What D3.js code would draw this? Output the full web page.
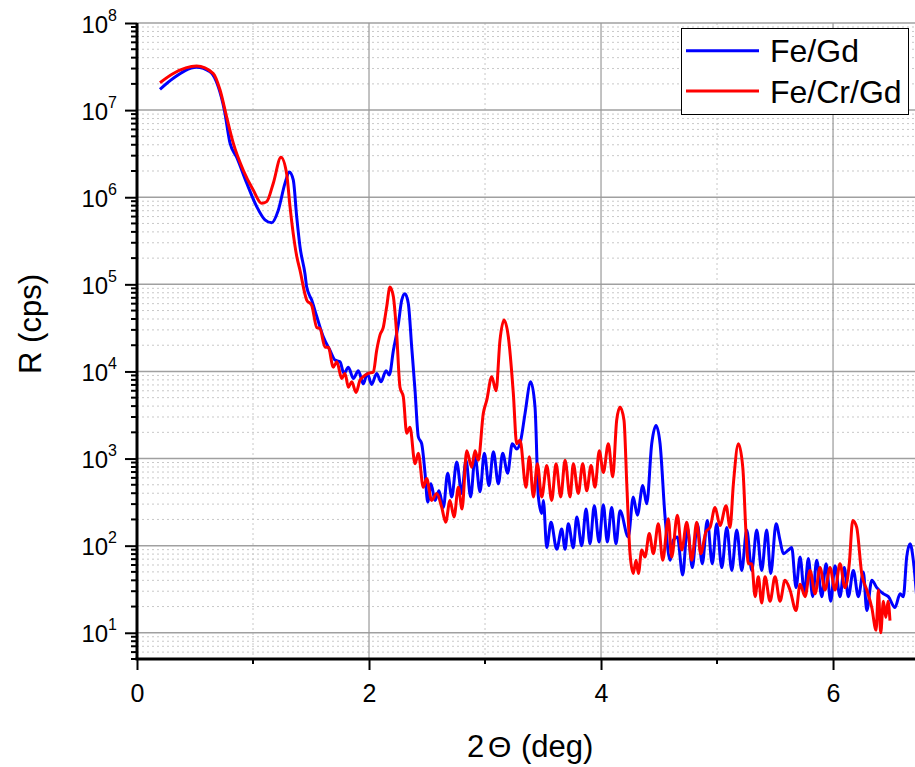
<!DOCTYPE html>
<html>
<head>
<meta charset="utf-8">
<script src="https://cdn.jsdelivr.net/npm/d3@7"></script>
<style>
  body { margin: 0; background: #fff; }
  svg { display: block; font-family: Arial, "Liberation Sans", sans-serif; }
</style>
</head>
<body>
<svg id="chart" width="915" height="767"></svg>
<script>
// Series: 2Theta (deg) and R (cps)
const feGdTheta = [0.198, 0.313, 0.514, 0.629, 0.70, 0.753, 0.802, 0.859, 0.946, 1.032, 1.103, 1.161, 1.218, 1.276, 1.313, 1.347, 1.377, 1.405, 1.448, 1.463, 1.506, 1.549, 1.606, 1.664, 1.707, 1.75, 1.784, 1.822, 1.865, 1.908, 1.951, 1.985, 2.023, 2.066, 2.103, 2.147, 2.175, 2.21, 2.253, 2.282, 2.31, 2.339, 2.368, 2.397, 2.425, 2.454, 2.483, 2.506, 2.534, 2.569, 2.603, 2.641, 2.678, 2.713, 2.756, 2.799, 2.836, 2.876, 2.914, 2.957, 2.994, 3.034, 3.072, 3.115, 3.152, 3.195, 3.235, 3.273, 3.308, 3.345, 3.394, 3.431, 3.46, 3.489, 3.503, 3.532, 3.569, 3.618, 3.661, 3.69, 3.718, 3.761, 3.791, 3.834, 3.871, 3.905, 3.942, 3.983, 4.02, 4.054, 4.092, 4.129, 4.164, 4.235, 4.278, 4.313, 4.36, 4.394, 4.437, 4.474, 4.509, 4.552, 4.595, 4.623, 4.658, 4.704, 4.744, 4.787, 4.83, 4.873, 4.916, 4.959, 4.997, 5.041, 5.084, 5.127, 5.17, 5.213, 5.256, 5.299, 5.342, 5.385, 5.428, 5.463, 5.509, 5.543, 5.572, 5.615, 5.644, 5.681, 5.716, 5.753, 5.787, 5.825, 5.859, 5.903, 5.94, 5.98, 6.017, 6.06, 6.097, 6.132, 6.175, 6.218, 6.261, 6.291, 6.334, 6.377, 6.434, 6.477, 6.534, 6.578, 6.606, 6.635, 6.664, 6.692, 6.724];
const feGdR = [1.73e7, 2.32e7, 3.1e7, 2.75e7, 1.86e7, 1.0e7, 4.17e6, 2.88e6, 1.45e6, 7.8e5, 5.5e5, 5.1e5, 7.1e5, 1.45e6, 1.95e6, 1.58e6, 5.9e5, 2.7e5, 1.32e5, 9.3e4, 6.6e4, 4.3e4, 2.5e4, 1.74e4, 1.35e4, 1.29e4, 9.5e3, 1.12e4, 8.3e3, 1.02e4, 7.2e3, 9.5e3, 7.1e3, 9.5e3, 7.6e3, 1.02e4, 9.1e3, 1.74e4, 3.5e4, 6.6e4, 7.8e4, 6.0e4, 1.9e4, 6.0e3, 1780, 1480, 680, 316, 513, 331, 427, 275, 680, 363, 912, 398, 955, 363, 1050, 417, 1150, 490, 1200, 513, 1150, 680, 1480, 1290, 1620, 3300, 7600, 3900, 363, 234, 331, 95, 186, 91, 155, 91, 178, 95, 214, 100, 263, 105, 288, 110, 295, 110, 275, 105, 251, 126, 363, 224, 490, 302, 1480, 2400, 1480, 214, 68, 115, 126, 46, 162, 56, 178, 62, 195, 62, 178, 56, 162, 52, 151, 52, 151, 52, 151, 52, 151, 48, 178, 115, 81, 89, 95, 33, 74, 28, 71, 26, 68, 26, 62, 23, 59, 26, 56, 26, 52, 26, 50, 18, 40, 33, 28, 26, 19.5, 28, 26, 74, 105, 68, 23];

const feCrGdTheta = [0.198, 0.313, 0.514, 0.658, 0.716, 0.773, 0.83, 0.916, 1.003, 1.075, 1.118, 1.175, 1.241, 1.29, 1.319, 1.347, 1.377, 1.405, 1.463, 1.506, 1.549, 1.578, 1.621, 1.649, 1.692, 1.722, 1.765, 1.793, 1.822, 1.851, 1.888, 1.922, 1.951, 1.994, 2.037, 2.066, 2.095, 2.123, 2.152, 2.181, 2.21, 2.238, 2.267, 2.296, 2.325, 2.353, 2.397, 2.425, 2.468, 2.497, 2.54, 2.584, 2.627, 2.661, 2.698, 2.733, 2.77, 2.802, 2.842, 2.885, 2.914, 2.942, 2.985, 3.015, 3.058, 3.095, 3.129, 3.164, 3.201, 3.244, 3.273, 3.302, 3.353, 3.382, 3.417, 3.451, 3.489, 3.532, 3.575, 3.612, 3.653, 3.69, 3.733, 3.761, 3.804, 3.842, 3.877, 3.914, 3.948, 3.985, 4.02, 4.063, 4.101, 4.135, 4.164, 4.198, 4.222, 4.25, 4.278, 4.302, 4.322, 4.351, 4.379, 4.416, 4.451, 4.494, 4.532, 4.58, 4.609, 4.658, 4.696, 4.739, 4.782, 4.825, 4.859, 4.905, 4.94, 4.983, 5.026, 5.078, 5.112, 5.141, 5.184, 5.222, 5.25, 5.27, 5.299, 5.328, 5.356, 5.385, 5.414, 5.457, 5.5, 5.543, 5.586, 5.629, 5.681, 5.716, 5.759, 5.802, 5.845, 5.888, 5.931, 5.974, 6.017, 6.06, 6.103, 6.14, 6.17, 6.204, 6.247, 6.291, 6.334, 6.371, 6.391, 6.411, 6.434, 6.455, 6.474, 6.491];
const feCrGdR = [2.06e7, 2.63e7, 3.2e7, 2.63e7, 1.7e7, 8.3e6, 4.17e6, 2.04e6, 1.2e6, 8.5e5, 8.9e5, 1.45e6, 2.88e6, 1.86e6, 7.8e5, 3.8e5, 2.1e5, 1.45e5, 6.6e4, 5.75e4, 3.2e4, 3.1e4, 1.9e4, 1.9e4, 1.12e4, 1.29e4, 8.3e3, 9.5e3, 6.6e3, 7.6e3, 5.75e3, 7.9e3, 8.7e3, 9.5e3, 9.8e3, 1.74e4, 2.63e4, 3.2e4, 5.5e4, 9.3e4, 7.2e4, 2.75e4, 6.6e3, 5.1e3, 1950, 2290, 870, 1150, 468, 589, 331, 398, 275, 186, 331, 214, 468, 263, 1230, 794, 1230, 955, 3300, 4680, 8700, 6000, 2.29e4, 3.9e4, 2.5e4, 5600, 1480, 1620, 468, 1050, 363, 870, 363, 832, 331, 870, 363, 955, 363, 870, 398, 870, 427, 832, 468, 1230, 692, 1480, 617, 2750, 3900, 2750, 513, 81, 48, 68, 48, 89, 74, 138, 81, 178, 68, 204, 74, 224, 89, 186, 68, 186, 81, 145, 162, 275, 170, 288, 162, 513, 1480, 794, 138, 62, 62, 26, 44, 22, 44, 23, 44, 23, 40, 31, 18, 36, 26, 52, 28, 56, 31, 56, 31, 62, 33, 62, 195, 162, 48, 31, 19.5, 10.7, 31, 10, 23, 15, 23, 13.8];

const xTicks = [0, 2, 4, 6];
const xMinorTicks = [1, 3, 5];
const yDecades = [1, 2, 3, 4, 5, 6, 7, 8];

const seriesNames = ['Fe/Gd', 'Fe/Cr/Gd'];
const seriesColors = ['#0000ff', '#ff0000'];

// Layout
const plot = { left: 137, right: 915.4, top: 23, bottom: 659 };

const svg = d3.select('#chart');

const x = d3.scaleLinear().domain([0, 6.71]).range([plot.left, plot.right]);
const y = d3.scaleLog().domain([5, 1e8]).range([plot.bottom, plot.top]);

// minor log values inside the domain
const yMinor = [];
for (let d = 0; d < 8; d++) {
    for (let k = 2; k <= 9; k++) {
        const v = k * Math.pow(10, d);
        if (v >= 5 && v < 1e8) yMinor.push(v);
    }
}
const yMajor = yDecades.map(e => Math.pow(10, e));

// Grid
const grid = svg.append('g');
grid.selectAll('.ymin').data(yMinor).enter().append('line')
    .attr('x1', plot.left).attr('x2', plot.right)
    .attr('y1', d => y(d)).attr('y2', d => y(d))
    .attr('stroke', '#c8c8c8').attr('stroke-width', 1).attr('stroke-dasharray', '2,3');
grid.selectAll('.xmin').data(xMinorTicks).enter().append('line')
    .attr('x1', d => x(d)).attr('x2', d => x(d))
    .attr('y1', plot.top).attr('y2', plot.bottom)
    .attr('stroke', '#c8c8c8').attr('stroke-width', 1).attr('stroke-dasharray', '2,3');
grid.selectAll('.ymaj').data(yMajor).enter().append('line')
    .attr('x1', plot.left).attr('x2', plot.right)
    .attr('y1', d => y(d)).attr('y2', d => y(d))
    .attr('stroke', '#a0a0a0').attr('stroke-width', 1.5);
grid.selectAll('.xmaj').data(xTicks.filter(d => d > 0)).enter().append('line')
    .attr('x1', d => x(d)).attr('x2', d => x(d))
    .attr('y1', plot.top).attr('y2', plot.bottom)
    .attr('stroke', '#999').attr('stroke-width', 1.2);

// Curves
svg.append('clipPath').attr('id', 'clip').append('rect')
    .attr('x', plot.left).attr('y', plot.top)
    .attr('width', plot.right - plot.left).attr('height', plot.bottom - plot.top);

const line = d3.line()
    .x(d => x(d[0]))
    .y(d => y(d[1]))
    .curve(d3.curveMonotoneX);

const series = [
    d3.zip(feGdTheta, feGdR),
    d3.zip(feCrGdTheta, feCrGdR)
];

svg.append('g').attr('clip-path', 'url(#clip)')
    .selectAll('path').data(series).enter().append('path')
    .attr('d', line)
    .attr('fill', 'none')
    .attr('stroke', (d, i) => seriesColors[i])
    .attr('stroke-width', 3)
    .attr('stroke-linejoin', 'round');

// Axes
const xAxis = svg.append('g').attr('transform', `translate(0,${plot.bottom})`)
    .call(d3.axisBottom(x).tickValues(xTicks).tickSize(11).tickFormat(d3.format('d')));
xAxis.append('g').selectAll('line').data(xMinorTicks).enter().append('line')
    .attr('x1', d => x(d)).attr('x2', d => x(d)).attr('y1', 0).attr('y2', 5)
    .attr('stroke', '#000').attr('stroke-width', 2);
xAxis.select('.domain').attr('stroke-width', 3).attr('d', `M${plot.left - 1.5},0H${plot.right}`);
xAxis.selectAll('.tick line').attr('stroke-width', 2);
xAxis.selectAll('.tick text').attr('font-size', 25).attr('font-family', 'Arial, "Liberation Sans", sans-serif')
    .attr('fill', '#000').attr('y', 0).attr('dy', 42.5);

const yAxis = svg.append('g').attr('transform', `translate(${plot.left},0)`)
    .call(d3.axisLeft(y).tickValues(yMajor).tickSize(12).tickFormat(''));
yAxis.select('.domain').attr('stroke-width', 3).attr('d', `M0,${plot.bottom}V${plot.top}`);
yAxis.selectAll('.tick line').attr('stroke-width', 2);
yAxis.append('g').selectAll('line').data(yMinor).enter().append('line')
    .attr('x1', -6).attr('x2', 0).attr('y1', d => y(d)).attr('y2', d => y(d))
    .attr('stroke', '#000').attr('stroke-width', 2);

const yLabels = yAxis.selectAll('.tick').append('text')
    .attr('x', -20).attr('y', 9)
    .attr('text-anchor', 'end').attr('fill', '#000')
    .attr('font-size', 24).attr('font-family', 'Arial, "Liberation Sans", sans-serif');
yLabels.append('tspan').text('10');
yLabels.append('tspan').attr('dy', -12).attr('font-size', 16).text(d => Math.round(Math.log10(d)));

// Axis titles
svg.append('text')
    .attr('y', 757)
    .attr('font-size', 31).attr('fill', '#000')
    .call(t => {
        t.append('tspan').attr('x', 467).text('2');
        t.append('tspan').attr('x', 488).attr('font-size', 30).text('Θ');
        t.append('tspan').attr('x', 521).text('(deg)');
    });

svg.append('text')
    .attr('transform', 'translate(41,324) rotate(-90)')
    .attr('text-anchor', 'middle')
    .attr('font-size', 31).attr('fill', '#000')
    .text('R (cps)');

// Legend
const legend = svg.append('g');
legend.append('rect')
    .attr('x', 681.5).attr('y', 28.5).attr('width', 227).attr('height', 86)
    .attr('fill', '#fff').attr('stroke', '#000').attr('stroke-width', 1);
const legendRows = [50.7, 91];
const items = legend.selectAll('.item').data(seriesNames).enter().append('g');
items.append('line')
    .attr('x1', 686).attr('x2', 759)
    .attr('y1', (d, i) => legendRows[i]).attr('y2', (d, i) => legendRows[i])
    .attr('stroke', (d, i) => seriesColors[i]).attr('stroke-width', 3);
items.append('text')
    .attr('x', 770).attr('y', (d, i) => legendRows[i] + 11.5)
    .attr('font-size', 32).attr('fill', '#000')
    .text(d => d);
</script>
</body>
</html>
